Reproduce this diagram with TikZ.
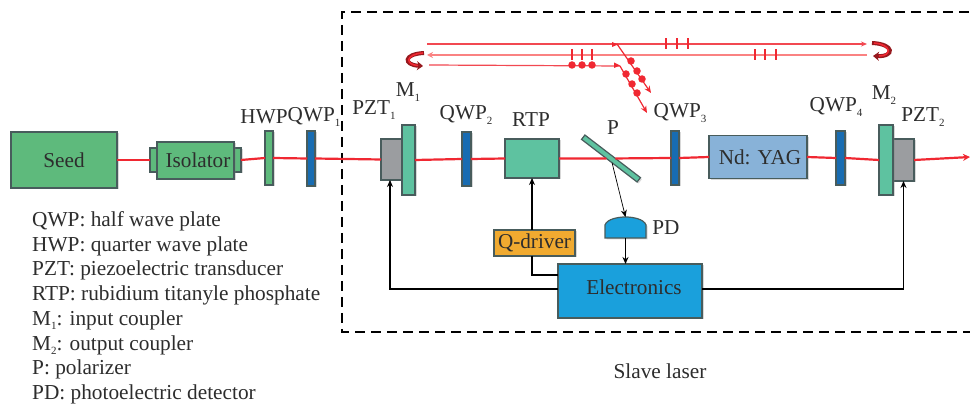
\documentclass[tikz,border=0pt]{standalone}
\usepackage{fontspec}
\setmainfont{Liberation Serif}
\usetikzlibrary{arrows.meta,shadows}
\definecolor{seedg}{RGB}{94,186,124}
\definecolor{tealg}{RGB}{94,194,160}
\definecolor{qblue}{RGB}{24,108,178}
\definecolor{pztg}{RGB}{155,157,160}
\definecolor{yagb}{RGB}{136,178,216}
\definecolor{elec}{RGB}{26,160,220}
\definecolor{qdr}{RGB}{240,170,48}
\definecolor{edgec}{RGB}{72,92,92}
\definecolor{beam}{RGB}{240,40,50}
\definecolor{lbeam}{RGB}{250,130,130}
\definecolor{txt}{RGB}{45,45,45}
\definecolor{dred}{RGB}{150,25,30}
\newcommand\sbs[1]{\raisebox{-4.5pt}{\fontsize{11}{11}\selectfont #1}}
\tikzset{
 x=1pt,y=-1pt,
 blk/.style={draw=edgec,line width=1.2pt,inner sep=0pt,outer sep=0pt,drop shadow={shadow xshift=1.5pt,shadow yshift=-1.5pt,opacity=.3}},
 lab/.style={text=txt,font=\fontsize{21.2}{24}\selectfont,inner sep=0pt},
 blab/.style={text=txt,font=\fontsize{21.2}{24}\selectfont,inner sep=0pt},
 leg/.style={text=txt,font=\fontsize{21.3}{24}\selectfont,inner sep=0pt,anchor=west},
 ray/.style={draw=beam,line width=2.2pt},
 thinray/.style={draw=beam!85!white,line width=1.2pt},
 midray/.style={draw=lbeam,line width=1.8pt},
 sig/.style={draw=black,line width=1.1pt,-{Stealth[length=7pt,width=6pt]}},
 tickmk/.style={draw=beam,line width=2.8pt},
 poldot/.style={circle,fill=beam,inner sep=0pt,minimum size=7.5pt},
 turnout/.style={draw=dred,line width=4pt,-{Stealth[length=6pt,width=9pt]}},
 turnin/.style={draw=beam,line width=1.6pt},
}
\begin{document}
\begin{tikzpicture}
\useasboundingbox (0,0) rectangle (970,406);
\fill[white] (0,0) rectangle (970,406);
% dashed slave box
\draw[black,line width=2.4pt,dash pattern=on 10pt off 6pt] (985,12) -- (342,12) -- (342,332) -- (985,332);
% blocks
\node[blk,fill=seedg,minimum width=106,minimum height=56] (seed) at (64,160) {};
\node[blk,fill=seedg,minimum width=7,minimum height=24] (isoL) at (153.5,160) {};
\node[blk,fill=seedg,minimum width=7,minimum height=24] (isoR) at (237.5,160) {};
\node[blk,fill=seedg,minimum width=77,minimum height=37] (iso) at (195.5,160.5) {};
\node[blk,fill=seedg,minimum width=8,minimum height=54] (hwp) at (269,158) {};
\node[blk,fill=qblue,minimum width=8,minimum height=55] (qwpa) at (311,158.5) {};
\node[blk,fill=pztg,minimum width=21,minimum height=41] (pzta) at (391.5,159.5) {};
\node[blk,fill=tealg,minimum width=13,minimum height=70] (ma) at (408.5,160) {};
\node[blk,fill=qblue,minimum width=9,minimum height=54] (qwpb) at (466.5,159) {};
\node[blk,fill=tealg,minimum width=54,minimum height=39] (rtp) at (532,158.5) {};
\node[blk,fill=tealg,minimum width=70,minimum height=5.5,rotate=-37.5] (pol) at (611,158.5) {};
\node[blk,fill=qblue,minimum width=8,minimum height=54] (qwpc) at (675,158) {};
\node[blk,fill=yagb,minimum width=98,minimum height=43] (yag) at (758,157) {};
\node[blk,fill=qblue,minimum width=9,minimum height=54] (qwpd) at (840.5,158) {};
\node[blk,fill=pztg,minimum width=21,minimum height=42] (pztb) at (903.5,160) {};
\node[blk,fill=tealg,minimum width=14,minimum height=70] (mb) at (886,160) {};
\node[blk,fill=elec,minimum width=144,minimum height=54] (el) at (630,291) {};
\node[blk,fill=qdr,minimum width=81,minimum height=26] (qd) at (534.5,243) {};
\node[minimum width=41,minimum height=21,inner sep=0pt,outer sep=0pt] (pd) at (625.5,227.5) {};
\draw[blk,fill=elec] (pd.south west) -- (605,225) .. controls (607,219) and (618,217) .. (pd.north) .. controls (633,217) and (644,219) .. (646,225) -- (pd.south east) -- cycle;
% block texts
\node[blab] (tseed) at (64,160) {Seed};
\node[blab] (tiso) at (198,160) {Isolator};
\node[blab] (tyag) at (760,157) {Nd: YAG};
\node[blab] (tqd) at (534.5,243) {Q-driver};
\node[blab] (tel) at (634,287) {Electronics};
% beam
\draw[ray] (seed.east) -- (isoL.west);
\draw[ray] (isoR.east) -- (hwp.west);
\draw[ray] (hwp.east) -- (qwpa.west);
\draw[ray] (qwpa.east) -- (pzta.west);
\draw[ray] (ma.east) -- (qwpb.west);
\draw[ray] (qwpb.east) -- (rtp.west);
\draw[ray] (rtp.east) -- (pol);
\draw[ray] (pol) -- (qwpc.west);
\draw[ray] (qwpc.east) -- (yag.west);
\draw[ray] (yag.east) -- (qwpd.west);
\draw[ray] (qwpd.east) -- (mb.west);
\coordinate (out) at (970,157);
\draw[ray,-{Stealth[length=7pt,width=7pt]}] (pztb.east) -- (out);
% electronics
\coordinate (ya) at (0,289); \coordinate (yb) at (0,275); \coordinate (xa) at (390,0);
\draw[sig] (el.west |- ya) -| (pzta.south -| xa);
\draw[sig] (el.east |- ya) -| (pztb.south);
\draw[sig] (qd.north -| rtp.south) -- (rtp.south);
\draw[line width=1.1pt,draw=black] (qd.south -| rtp.south) |- (el.west |- yb);
\draw[sig] (pd.south) -- (pd.south |- el.north);
\draw[black,line width=.7pt,-{Stealth[length=7pt,width=6pt]}] (pol) -- (pd.north);
% intra-cavity rays
\coordinate (ra) at (427,44); \coordinate (rb) at (867,44);
\coordinate (rc) at (867,55); \coordinate (rd) at (427,55);
\coordinate (re) at (429,65); \coordinate (rf) at (620,66);
\coordinate (rg) at (617,44); \coordinate (rh) at (651,93);
\coordinate (ri) at (647,113);
\draw[thinray,-{Stealth[length=6pt,width=5pt]}] (ra) -- (rb);
\draw[midray,-{Stealth[length=6pt,width=6pt]}] (rc) -- (rd);
\draw[thinray] (re) -- (rf);
\draw[draw=beam,line width=1.2pt,-{Stealth[length=7pt,width=6pt]}] (rg) -- (rh);
\draw[draw=beam,line width=1.2pt,-{Stealth[length=7pt,width=6pt]}] (rf) -- (ri);
\fill[beam] (612,42) -- (618,44.5) -- (612,47) -- cycle;
\fill[beam] (614,62.5) -- (620,65.5) -- (614,68) -- cycle;
\foreach \x in {572,582,592}{\draw[tickmk] (\x,49) -- (\x,60); \node[poldot] at (\x,65) {};}
\foreach \x in {666,677,688}{\draw[tickmk] (\x,38.5) -- (\x,49.5);}
\foreach \x in {755,765,776}{\draw[tickmk] (\x,49.5) -- (\x,60.5);}
\foreach \x/\y in {631/61,637/71,642/79,626/74,632/84,637/93}{\node[poldot] at (\x,\y) {};}
% turn arrows
\draw[turnout] (424,53) .. controls (403,54) and (403,65) .. (423,66);
\draw[turnin] (423,53) .. controls (405,54) and (405,65) .. (418,65.5);
\draw[turnout] (872,43) .. controls (895,44) and (895,57) .. (873,56);
\draw[turnin] (874,43) .. controls (892,44.5) and (892,56) .. (879,56);
% labels
\node[lab] (lhwp) at (264,117) {HWP};
\node[lab] (lqa) at (314,117) {QWP\sbs{1}};
\node[lab] (lpa) at (374,110) {PZT\sbs{1}};
\node[lab] (lma) at (408,92) {M\sbs{1}};
\node[lab] (lqb) at (466,115) {QWP\sbs{2}};
\node[lab] (lrtp) at (531,120) {RTP};
\node[lab] (lp) at (613,128) {P};
\node[lab] (lqc) at (680,113) {QWP\sbs{3}};
\node[lab] (lqd) at (836,107) {QWP\sbs{4}};
\node[lab] (lmb) at (884,95) {M\sbs{2}};
\node[lab] (lpb) at (923,117) {PZT\sbs{2}};
\node[lab] (lpd) at (666,228) {PD};
\node[leg,anchor=center] (lsl) at (660,371) {Slave laser};
% legend
\node[leg] (g1) at (32,221) {QWP: half wave plate};
\node[leg] (g2) at (32,246) {HWP: quarter wave plate};
\node[leg] (g3) at (32,270) {PZT: piezoelectric transducer};
\node[leg] (g4) at (32,295) {RTP: rubidium titanyle phosphate};
\node[leg] (g5) at (32,320) {M\sbs{1}: input coupler};
\node[leg] (g6) at (32,345) {M\sbs{2}: output coupler};
\node[leg] (g7) at (32,369) {P: polarizer};
\node[leg] (g8) at (32,394) {PD: photoelectric detector};
\end{tikzpicture}
\end{document}
